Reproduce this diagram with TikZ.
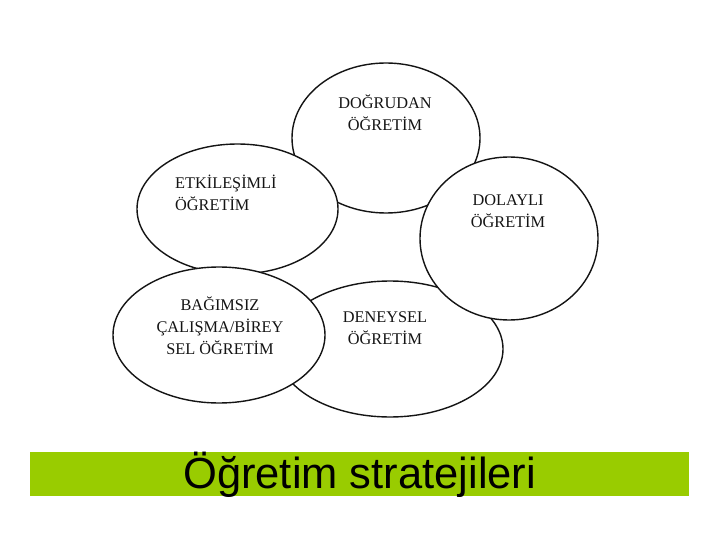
\documentclass[tikz,border=0pt]{standalone}
\usepackage{fontspec}
\setmainfont{Liberation Serif}
\newfontfamily\barfont{Liberation Sans}
\usetikzlibrary{shapes.geometric}
\definecolor{bargreen}{HTML}{99CC00}
\definecolor{inkc}{HTML}{141414}
\tikzset{
  blob/.style={ellipse, draw=inkc, line width=1.4pt, fill=white, inner sep=0pt},
  lbl/.style={font=\fontsize{16.3}{22}\selectfont, text=inkc, inner sep=0pt},
}
\begin{document}
\begin{tikzpicture}[x=1pt,y=-1pt]
\useasboundingbox (0,0) rectangle (720,540);
\fill[white] (0,0) rectangle (720,540);
% ellipses, back to front
\node[blob, minimum width=188pt, minimum height=150pt] (dog) at (386,138) {};
\node[blob, minimum width=226pt, minimum height=136pt] (den) at (390,349) {};
\node[blob, minimum width=201pt, minimum height=130pt] (etk) at (237.5,209) {};
\node[blob, minimum width=178pt, minimum height=163pt] (dol) at (509,238.5) {};
\node[blob, minimum width=212pt, minimum height=136pt] (bag) at (219,335) {};
% labels
\node[lbl, align=center] (tdog) at (385,113) {DOĞRUDAN\\ÖĞRETİM};
\node[lbl, align=left, anchor=west] (tetk) at (175,192.5) {ETKİLEŞİMLİ\\ÖĞRETİM};
\node[lbl, align=center] (tdol) at (508,211.5) {DOLAYLI\\ÖĞRETİM};
\node[lbl, align=center] (tden) at (385,328) {DENEYSEL\\ÖĞRETİM};
\node[lbl, align=center] (tbag) at (220,325.5) {BAĞIMSIZ\\ÇALIŞMA/BİREY\\SEL ÖĞRETİM};
% title bar
\node[fill=bargreen, minimum width=659pt, minimum height=44pt, inner sep=0pt, anchor=north west] (bar) at (30,452) {};
\node[font=\barfont\fontsize{43.5}{43.5}\selectfont, text=black, inner sep=0pt] (title) at ([yshift=-1pt]bar.center) {Öğretim stratejileri};
\end{tikzpicture}
\end{document}
